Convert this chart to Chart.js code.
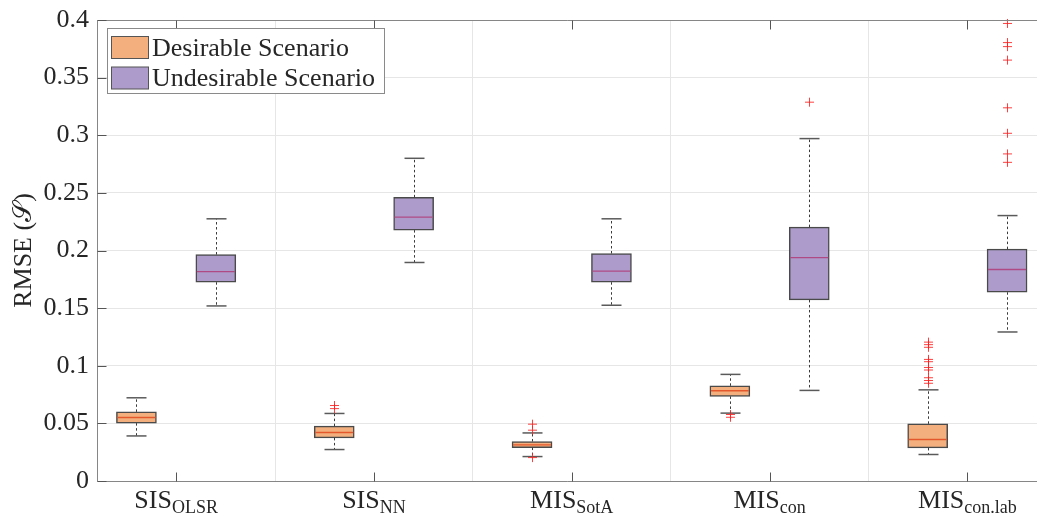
<!DOCTYPE html>
<html>
<head>
<meta charset="utf-8">
<script src="https://cdn.jsdelivr.net/npm/chart.js@4.4.1/dist/chart.umd.min.js"></script>
<style>
  html, body { margin: 0; padding: 0; background: #ffffff; }
  #c { display: block; }
</style>
</head>
<body>
<canvas id="c" width="1037" height="514"></canvas>
<script>
// Method names: base text and subscript
const methods = ['SIS', 'SIS', 'MIS', 'MIS', 'MIS'];
const methodSubs = ['OLSR', 'NN', 'SotA', 'con', 'con.lab'];
const groupPos = methods.map((_, i) => i + 1);

const seriesNames = ['Desirable Scenario', 'Undesirable Scenario'];

// Desirable scenario box statistics (RMSE)
const desWhiskerLow  = [0.0391, 0.0273, 0.0212, 0.0589, 0.0230];
const desQ1          = [0.0502, 0.0374, 0.0290, 0.0734, 0.0287];
const desMedian      = [0.0551, 0.0421, 0.0313, 0.0783, 0.0360];
const desQ3          = [0.0600, 0.0476, 0.0343, 0.0826, 0.0496];
const desWhiskerHigh = [0.0722, 0.0586, 0.0417, 0.0925, 0.0791];
const desOutliers = [
  [],
  [0.0655, 0.0628],
  [0.0493, 0.0441, 0.0203],
  [0.0577, 0.0553],
  [0.1205, 0.1183, 0.1160, 0.1055, 0.1035, 0.0985, 0.0963, 0.0896, 0.0872, 0.0848]
];

// Undesirable scenario box statistics (RMSE)
const undWhiskerLow  = [0.1519, 0.1896, 0.1525, 0.0786, 0.1293];
const undQ1          = [0.1725, 0.2177, 0.1725, 0.1571, 0.1638];
const undMedian      = [0.1817, 0.2290, 0.1821, 0.1939, 0.1835];
const undQ3          = [0.1965, 0.2461, 0.1974, 0.2203, 0.2012];
const undWhiskerHigh = [0.2275, 0.2800, 0.2275, 0.2971, 0.2303];
const undOutliers = [
  [],
  [],
  [],
  [0.3287],
  [0.3970, 0.3804, 0.3769, 0.3652, 0.3238, 0.3017, 0.2838, 0.2765]
];

// Y axis range and tick step
const yMin = 0, yMax = 0.4, yStep = 0.05;
const yTitle = 'RMSE (\u{1D4AE})';

const stats = [
  { lo: desWhiskerLow, q1: desQ1, med: desMedian, q3: desQ3, hi: desWhiskerHigh, out: desOutliers },
  { lo: undWhiskerLow, q1: undQ1, med: undMedian, q3: undQ3, hi: undWhiskerHigh, out: undOutliers }
];

// Styling
const FONT = '"Liberation Serif", "Times New Roman", serif';
const TEXT = '#262626';
const AXIS = '#868686';
const GRID = '#e6e6e6';
const fills = ['#F3B07E', '#AD9CCB'];
const medianColors = ['#E4572C', '#B04A85'];
const boxEdge = '#4a4a4a';

const boxDetails = {
  id: 'boxDetails',
  afterDatasetsDraw(chart) {
    const ctx = chart.ctx;
    const y = chart.scales.y;
    const seg = (x1, y1, x2, y2) => { ctx.beginPath(); ctx.moveTo(x1, y1); ctx.lineTo(x2, y2); ctx.stroke(); };
    stats.forEach((s, d) => {
      const meta = chart.getDatasetMeta(d);
      meta.data.forEach((bar, i) => {
        const x = Math.round(bar.x) + 0.5;
        const w = bar.width;
        const pHi = y.getPixelForValue(s.hi[i]);
        const pLo = y.getPixelForValue(s.lo[i]);
        const pQ1 = y.getPixelForValue(s.q1[i]);
        const pQ3 = y.getPixelForValue(s.q3[i]);
        const pMed = y.getPixelForValue(s.med[i]);
        ctx.save();
        // dashed whiskers
        ctx.strokeStyle = '#3a3a3a';
        ctx.lineWidth = 1;
        ctx.setLineDash([2.5, 2.5]);
        seg(x, pQ3, x, pHi);
        seg(x, pQ1, x, pLo);
        ctx.setLineDash([]);
        // whisker caps
        ctx.strokeStyle = '#5a5a5a';
        ctx.lineWidth = 1.5;
        seg(x - w / 4, pHi, x + w / 4, pHi);
        seg(x - w / 4, pLo, x + w / 4, pLo);
        // median
        ctx.strokeStyle = medianColors[d];
        ctx.lineWidth = 1.3;
        seg(bar.x - w / 2 + 1, pMed, bar.x + w / 2 - 1, pMed);
        // outliers
        ctx.strokeStyle = 'rgba(255,30,30,0.85)';
        ctx.lineWidth = 1;
        s.out[i].forEach(v => {
          const py = y.getPixelForValue(v);
          seg(x - 4.5, py, x + 4.5, py);
          seg(x, py - 4.5, x, py + 4.5);
        });
        ctx.restore();
      });
    });
  },
  afterDraw(chart) {
    const ctx = chart.ctx;
    const a = chart.chartArea;
    const xs = chart.scales.x;
    const ys = chart.scales.y;
    ctx.save();
    // axes frame
    ctx.strokeStyle = AXIS;
    ctx.lineWidth = 1;
    const L = Math.round(a.left) + 0.5, T = Math.round(a.top) + 0.5, B = Math.round(a.bottom) + 0.5;
    ctx.beginPath();
    ctx.moveTo(a.right, T); ctx.lineTo(L, T); ctx.lineTo(L, B); ctx.lineTo(a.right, B);
    ctx.stroke();
    // inward tick marks
    ctx.strokeStyle = '#555';
    ys.ticks.forEach(t => {
      const py = Math.round(ys.getPixelForValue(t.value)) + 0.5;
      ctx.beginPath(); ctx.moveTo(L, py); ctx.lineTo(L + 9, py); ctx.stroke();
    });
    groupPos.forEach(p => {
      const px = Math.round(xs.getPixelForValue(p)) + 0.5;
      ctx.beginPath(); ctx.moveTo(px, B); ctx.lineTo(px, B - 9); ctx.stroke();
      ctx.beginPath(); ctx.moveTo(px, T); ctx.lineTo(px, T + 9); ctx.stroke();
    });
    // category labels with subscripts
    ctx.fillStyle = TEXT;
    ctx.textBaseline = 'alphabetic';
    ctx.textAlign = 'left';
    groupPos.forEach((p, i) => {
      const px = xs.getPixelForValue(p);
      ctx.font = '26px ' + FONT;
      const wMain = ctx.measureText(methods[i]).width;
      ctx.font = '18px ' + FONT;
      const wSub = ctx.measureText(methodSubs[i]).width;
      const x0 = px - (wMain + wSub) / 2;
      ctx.font = '26px ' + FONT;
      ctx.fillText(methods[i], x0, 508);
      ctx.font = '18px ' + FONT;
      ctx.fillText(methodSubs[i], x0 + wMain, 513);
    });
    // legend
    const lx = 107.5, ly = 28.5, lw = 277, lh = 65;
    ctx.fillStyle = '#ffffff';
    ctx.fillRect(lx, ly, lw, lh);
    ctx.strokeStyle = '#8a8a8a';
    ctx.strokeRect(lx, ly, lw, lh);
    seriesNames.forEach((name, d) => {
      const sy = 36.5 + d * 30.5;
      ctx.fillStyle = fills[d];
      ctx.fillRect(111.5, sy, 37, 22);
      ctx.strokeStyle = '#555';
      ctx.strokeRect(111.5, sy, 37, 22);
      ctx.fillStyle = TEXT;
      ctx.font = '26px ' + FONT;
      ctx.fillText(name, 152, sy + 19);
    });
    ctx.restore();
  }
};

const datasets = stats.map((s, d) => ({
  type: 'bar',
  label: seriesNames[d],
  data: groupPos.map((p, i) => ({ x: p, y: [s.q1[i], s.q3[i]] })),
  backgroundColor: fills[d],
  borderColor: boxEdge,
  borderWidth: 1.5,
  borderSkipped: false,
  barThickness: 79.4,
  maxBarThickness: 40
}));

new Chart(document.getElementById('c'), {
  type: 'bar',
  data: { datasets },
  options: {
    responsive: false,
    animation: false,
    devicePixelRatio: 1,
    layout: { padding: { top: 20, left: 0, right: 0, bottom: 0 } },
    plugins: { legend: { display: false }, tooltip: { enabled: false } },
    scales: {
      x: {
        type: 'linear',
        min: 0.6,
        max: 5.352,
        offset: false,
        grid: { color: GRID, drawTicks: false },
        border: { display: false },
        ticks: { display: false },
        afterBuildTicks: s => { s.ticks = groupPos.map(v => ({ value: v })); },
        afterFit: s => { s.height = 33; s.paddingLeft = 0; s.paddingRight = 0; }
      },
      y: {
        type: 'linear',
        min: yMin,
        max: yMax,
        grid: { color: GRID, drawTicks: false },
        border: { display: false },
        ticks: {
          stepSize: yStep,
          padding: 8,
          color: TEXT,
          font: { family: FONT, size: 26 },
          callback: v => String(Number(v.toFixed(2)))
        },
        title: {
          display: true,
          text: yTitle,
          color: TEXT,
          font: { family: FONT, size: 26 },
          padding: { top: 9, bottom: 0 }
        },
        afterFit: s => { s.width = 97; s.paddingTop = 0; s.paddingBottom = 0; }
      }
    }
  },
  plugins: [boxDetails]
});
</script>
</body>
</html>
